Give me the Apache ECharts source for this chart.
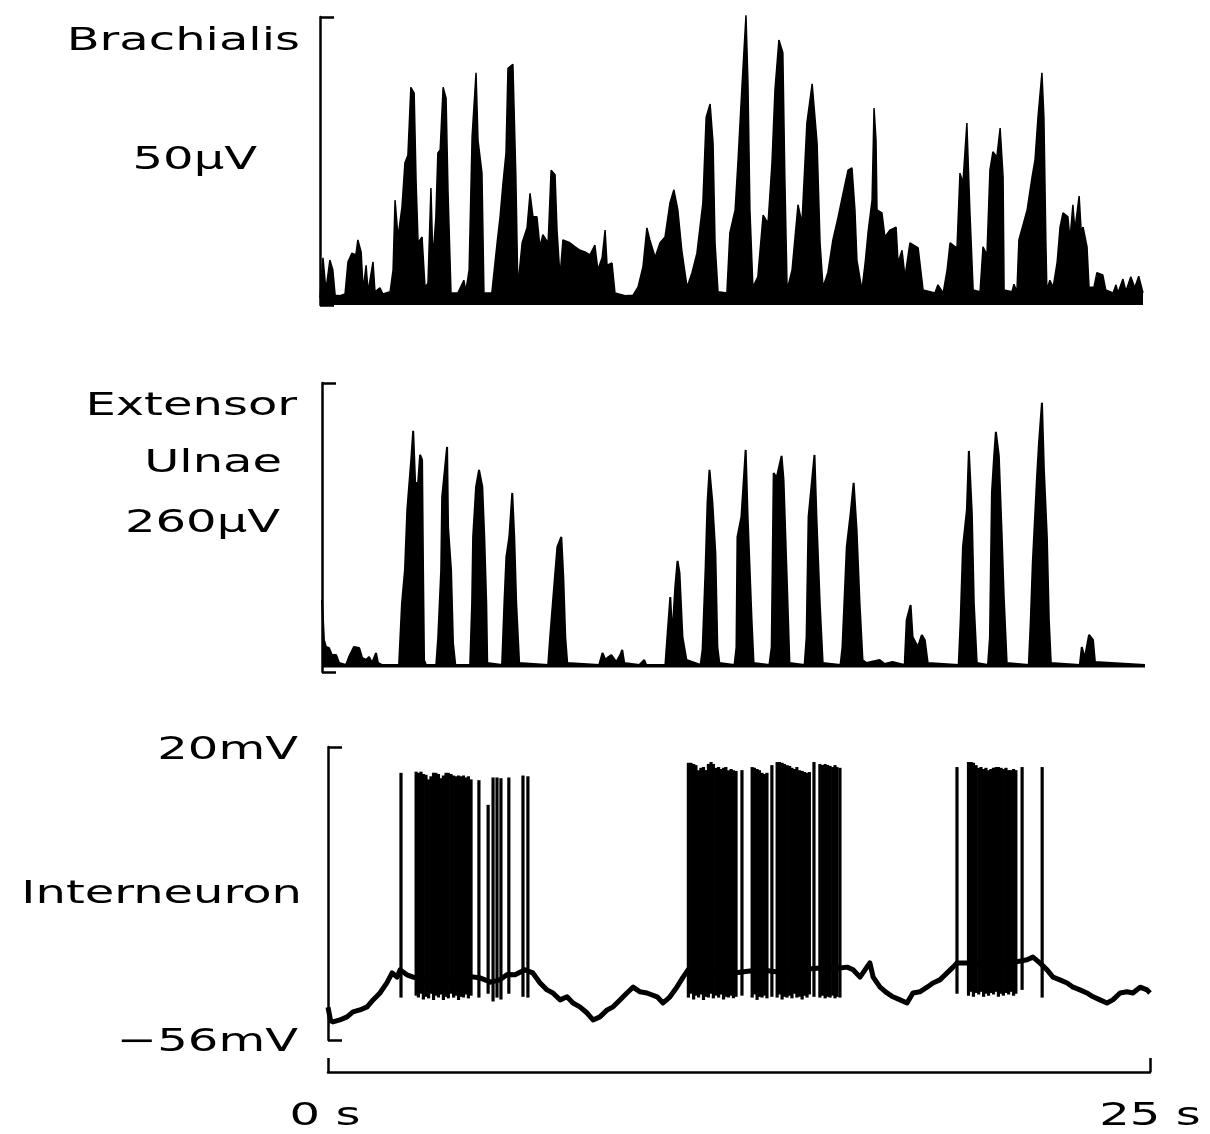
<!DOCTYPE html>
<html>
<head>
<meta charset="utf-8">
<script src="https://cdn.jsdelivr.net/npm/echarts@6/dist/echarts.min.js"></script>
<style>
  html, body { margin: 0; padding: 0; background: #fff; }
  #chart { width: 1210px; height: 1134px; }
</style>
</head>
<body>
<div id="chart"></div>
<script>
// ---------- DATA ----------
// Brachialis rectified EMG envelope: [time (s), amplitude (µV)]
const brachialis = [[0.00,1.2],[0.09,8.2],[0.18,2.6],[0.30,7.8],[0.39,6.1],[0.46,1.7],[0.61,1.6],[0.76,1.9],[0.85,7.5],[0.97,9.0],[1.09,8.7],[1.15,11.3],[1.25,9.2],[1.31,2.6],[1.40,6.9],[1.46,2.3],[1.61,7.5],[1.67,2.3],[1.82,3.0],[1.91,1.9],[2.13,2.3],[2.22,6.1],[2.28,18.2],[2.37,11.8],[2.49,17.0],[2.58,24.7],[2.67,26.0],[2.76,37.8],[2.86,36.8],[2.92,21.2],[2.98,10.8],[3.10,11.8],[3.19,3.1],[3.28,3.8],[3.37,20.3],[3.43,7.8],[3.52,15.3],[3.58,26.4],[3.65,26.9],[3.74,37.8],[3.83,35.9],[3.89,19.4],[3.98,2.1],[4.19,2.1],[4.37,4.3],[4.43,2.4],[4.53,6.1],[4.62,29.2],[4.74,40.3],[4.80,28.6],[4.92,22.9],[4.98,2.1],[5.22,2.1],[5.38,10.8],[5.47,15.3],[5.56,21.2],[5.65,26.4],[5.71,41.1],[5.86,41.8],[5.95,22.2],[6.01,3.1],[6.14,10.8],[6.29,13.4],[6.38,19.4],[6.47,15.3],[6.59,15.3],[6.68,10.1],[6.77,12.2],[6.93,10.8],[7.02,23.4],[7.14,22.6],[7.20,13.0],[7.29,4.9],[7.38,11.3],[7.59,10.8],[7.75,10.1],[7.90,9.5],[8.05,9.2],[8.20,8.7],[8.35,10.4],[8.44,6.1],[8.57,8.2],[8.66,13.0],[8.72,6.9],[8.87,7.3],[8.96,2.1],[9.27,1.6],[9.51,1.7],[9.66,3.1],[9.81,6.6],[9.93,13.4],[10.02,11.3],[10.18,8.3],[10.33,10.8],[10.48,11.8],[10.63,17.7],[10.75,20.0],[10.87,16.5],[10.99,9.5],[11.15,3.1],[11.30,5.6],[11.45,9.0],[11.63,17.7],[11.73,32.6],[11.85,34.9],[11.94,28.1],[12.00,10.8],[12.09,2.3],[12.36,2.1],[12.45,12.5],[12.61,16.5],[12.70,25.2],[12.82,38.2],[12.94,50.3],[13.00,38.5],[13.06,16.5],[13.15,3.1],[13.30,4.9],[13.46,15.6],[13.61,14.2],[13.73,24.7],[13.82,37.3],[13.94,46.0],[14.06,43.8],[14.12,22.2],[14.19,2.6],[14.34,6.1],[14.52,17.4],[14.64,14.2],[14.79,31.6],[14.95,38.4],[15.10,28.1],[15.19,10.8],[15.28,3.1],[15.43,5.7],[15.58,11.3],[15.74,15.3],[15.89,19.4],[16.04,23.4],[16.16,23.8],[16.25,16.5],[16.31,7.8],[16.46,2.6],[16.56,7.3],[16.65,12.7],[16.71,13.0],[16.77,18.2],[16.83,34.2],[16.89,28.6],[16.92,16.5],[17.07,16.0],[17.16,11.8],[17.31,13.0],[17.50,13.5],[17.56,7.3],[17.68,9.5],[17.77,4.9],[17.92,10.8],[18.17,9.9],[18.32,2.6],[18.68,2.1],[18.77,3.5],[18.93,2.1],[19.05,6.1],[19.14,10.8],[19.35,9.9],[19.44,22.9],[19.53,21.2],[19.65,31.6],[19.74,16.5],[19.84,2.6],[20.05,2.3],[20.14,10.1],[20.26,8.7],[20.35,23.4],[20.44,26.6],[20.56,25.7],[20.66,30.7],[20.75,22.2],[20.78,2.6],[21.02,2.3],[21.08,3.6],[21.17,2.3],[21.23,11.3],[21.48,16.5],[21.63,22.2],[21.72,25.2],[21.81,32.6],[21.93,40.3],[21.99,32.6],[22.05,10.8],[22.08,2.6],[22.17,4.3],[22.27,3.1],[22.39,7.3],[22.48,13.5],[22.57,16.0],[22.72,15.3],[22.78,11.3],[22.87,17.4],[22.93,13.0],[23.06,18.9],[23.12,13.0],[23.18,13.5],[23.30,10.1],[23.36,3.1],[23.51,3.1],[23.60,5.6],[23.78,5.2],[23.87,2.6],[24.09,2.1],[24.18,3.5],[24.24,2.1],[24.39,4.5],[24.48,2.4],[24.63,4.9],[24.75,3.0],[24.87,5.0],[25.00,2.1]];

// Extensor Ulnae rectified EMG envelope: [time (s), amplitude (µV)]
const extensorUlnae = [[0.00,64.8],[0.06,28.8],[0.12,22.5],[0.21,21.6],[0.30,15.3],[0.43,15.3],[0.52,8.1],[0.73,6.3],[0.82,13.5],[0.97,22.5],[1.13,21.6],[1.22,12.6],[1.34,10.8],[1.43,13.5],[1.52,8.1],[1.64,17.1],[1.70,8.1],[1.82,6.3],[2.34,6.3],[2.43,62.1],[2.52,91.8],[2.59,145.8],[2.71,190.8],[2.77,216.9],[2.83,170.1],[2.92,170.1],[2.98,195.3],[3.04,190.8],[3.07,91.8],[3.10,10.8],[3.16,6.3],[3.47,6.3],[3.53,31.5],[3.62,91.8],[3.65,157.5],[3.74,184.5],[3.80,202.5],[3.83,130.5],[3.92,91.8],[3.98,26.1],[4.05,6.3],[4.50,6.3],[4.56,62.1],[4.59,121.5],[4.68,166.5],[4.77,181.8],[4.87,166.5],[4.93,121.5],[4.99,62.1],[5.02,8.1],[5.47,6.3],[5.54,62.1],[5.60,103.5],[5.69,121.5],[5.78,161.1],[5.84,121.5],[5.90,62.1],[5.99,8.1],[6.87,6.3],[6.93,31.5],[7.06,80.1],[7.15,112.5],[7.27,121.5],[7.33,85.5],[7.39,31.5],[7.45,8.1],[8.42,6.3],[8.52,17.1],[8.61,10.8],[8.70,13.5],[8.79,15.3],[8.94,9.0],[9.06,15.3],[9.12,19.8],[9.18,8.1],[9.64,6.3],[9.79,10.8],[9.85,6.3],[10.43,6.3],[10.49,31.5],[10.58,67.5],[10.64,31.5],[10.73,76.5],[10.80,99.9],[10.86,89.1],[10.95,31.5],[11.07,10.8],[11.50,6.3],[11.56,19.8],[11.65,91.8],[11.71,152.1],[11.77,181.8],[11.86,152.1],[11.95,107.1],[12.01,22.5],[12.07,8.1],[12.53,6.3],[12.59,22.5],[12.62,121.5],[12.74,139.5],[12.87,199.8],[12.93,139.5],[13.05,46.8],[13.11,8.1],[13.59,6.3],[13.66,22.5],[13.72,179.1],[13.81,174.6],[13.96,194.4],[14.02,172.8],[14.11,91.8],[14.20,8.1],[14.66,6.3],[14.72,31.5],[14.78,139.5],[14.96,195.3],[15.02,139.5],[15.12,62.1],[15.21,8.1],[15.75,6.3],[15.81,22.5],[15.94,112.5],[16.06,143.1],[16.15,170.1],[16.24,127.8],[16.33,62.1],[16.42,10.8],[16.54,8.1],[16.94,10.8],[17.09,7.2],[17.33,9.0],[17.70,6.3],[17.76,46.8],[17.88,60.3],[17.94,31.5],[18.10,22.5],[18.22,33.3],[18.31,28.8],[18.40,8.1],[19.34,6.3],[19.40,46.8],[19.47,112.5],[19.59,145.8],[19.65,198.9],[19.74,143.1],[19.80,62.1],[19.89,8.1],[20.23,6.3],[20.29,31.5],[20.35,161.1],[20.41,190.8],[20.47,216.0],[20.56,194.4],[20.65,121.5],[20.71,67.5],[20.80,8.1],[21.47,6.3],[21.53,46.8],[21.59,98.1],[21.72,175.5],[21.78,206.1],[21.87,242.1],[21.93,181.8],[22.02,121.5],[22.08,46.8],[22.14,8.1],[23.02,6.3],[23.08,22.5],[23.17,12.6],[23.30,33.3],[23.42,28.8],[23.48,9.0],[25.00,6.3]];

// Interneuron membrane potential (slow trace): [time (s), mV]
const membranePotential = [[0.00,-47.5],[0.08,-51.0],[0.15,-51.3],[0.36,-50.8],[0.58,-50.0],[0.76,-48.7],[0.97,-48.2],[1.19,-47.4],[1.37,-45.6],[1.58,-43.8],[1.79,-41.2],[1.95,-38.6],[2.10,-39.7],[2.19,-37.8],[2.40,-39.1],[2.59,-39.7],[2.80,-39.9],[3.10,-41.0],[3.41,-41.7],[3.70,-40.8],[4.01,-40.4],[4.30,-39.5],[4.62,-39.9],[4.95,-41.0],[5.23,-40.4],[5.45,-39.0],[5.69,-39.1],[5.99,-37.8],[6.23,-38.6],[6.45,-41.2],[6.66,-43.0],[6.84,-43.8],[7.06,-45.6],[7.27,-44.8],[7.45,-46.4],[7.66,-47.4],[7.88,-49.0],[8.06,-50.8],[8.27,-50.0],[8.49,-48.2],[8.67,-47.4],[8.88,-45.6],[9.09,-43.8],[9.28,-42.3],[9.49,-43.5],[9.70,-43.8],[10.01,-44.8],[10.19,-46.4],[10.40,-44.8],[10.61,-42.3],[10.80,-39.7],[10.95,-37.8],[11.31,-38.4],[11.92,-39.1],[12.53,-38.4],[13.14,-37.8],[13.75,-38.4],[14.36,-37.8],[14.96,-37.3],[15.57,-37.3],[15.79,-37.1],[15.97,-37.8],[16.18,-39.7],[16.27,-38.6],[16.39,-37.1],[16.48,-36.0],[16.58,-39.7],[16.79,-42.3],[17.00,-43.8],[17.18,-44.8],[17.40,-45.6],[17.61,-46.4],[17.79,-43.8],[18.00,-43.5],[18.22,-42.3],[18.40,-41.2],[18.61,-40.4],[18.83,-38.6],[19.01,-37.1],[19.13,-36.0],[19.43,-36.0],[19.83,-36.5],[20.44,-36.0],[20.89,-35.8],[21.26,-35.2],[21.44,-34.5],[21.65,-36.0],[21.87,-37.8],[22.05,-39.7],[22.26,-40.4],[22.48,-41.2],[22.66,-42.3],[22.87,-43.0],[23.08,-43.8],[23.27,-44.8],[23.48,-45.6],[23.69,-46.4],[23.87,-45.6],[24.09,-43.8],[24.30,-43.5],[24.48,-43.8],[24.70,-42.3],[24.91,-43.0],[25.00,-43.8]];

// Interneuron action potentials: [time (s), trough (mV), peak (mV)]
const spikes = [
  [2.22,-45.0,13.3],
  [2.68,-44.5,13.6],[2.75,-45.0,13.3],[2.83,-44.0,13.6],[2.90,-45.5,13.0],[2.98,-44.8,12.8],[3.06,-45.2,11.6],[3.13,-44.0,12.4],[3.21,-45.6,13.3],[3.28,-44.5,13.3],[3.36,-45.0,13.0],[3.44,-44.2,11.9],[3.51,-45.6,12.6],[3.59,-44.8,13.3],[3.66,-45.2,13.3],[3.74,-44.0,13.0],[3.82,-45.0,12.6],[3.89,-44.5,12.4],[3.97,-45.6,12.6],[4.05,-44.8,12.4],[4.12,-45.0,12.6],[4.20,-44.2,12.1],[4.27,-45.2,12.4],[4.35,-44.5,11.6],
  [4.59,-45.0,11.4],[4.87,-44.0,5.0],[5.02,-46.0,12.1],[5.14,-45.0,12.1],[5.26,-45.5,11.9],[5.50,-44.0,12.1],[5.93,-44.8,12.6],[6.08,-45.0,12.4],
  [10.96,-45.0,15.9],[11.04,-44.0,15.9],[11.12,-45.5,15.6],[11.19,-44.5,15.3],[11.27,-45.0,14.0],[11.34,-44.2,14.6],[11.42,-45.6,14.8],[11.50,-44.8,14.0],[11.57,-45.0,15.6],[11.65,-44.0,16.1],[11.72,-45.2,15.6],[11.80,-44.5,14.6],[11.88,-45.0,14.8],[11.95,-44.2,14.3],[12.03,-45.5,14.6],[12.10,-44.8,14.8],[12.18,-45.0,14.0],[12.26,-44.5,14.3],[12.33,-45.2,14.0],[12.41,-44.8,13.8],
  [12.59,-44.5,14.0],
  [12.90,-45.0,14.8],[12.97,-44.2,14.6],[13.05,-45.6,14.3],[13.12,-44.8,14.0],[13.20,-45.0,13.3],[13.28,-44.5,13.0],[13.35,-45.2,13.3],
  [13.50,-44.8,15.3],
  [13.66,-45.0,16.1],[13.73,-44.2,16.1],[13.81,-45.5,15.9],[13.88,-44.8,15.6],[13.96,-45.0,15.3],[14.04,-44.5,15.1],[14.11,-45.2,14.6],[14.19,-44.0,14.3],[14.26,-45.0,14.8],[14.34,-44.8,14.0],[14.42,-45.5,13.8],[14.49,-44.5,13.5],[14.57,-45.0,13.3],[14.64,-44.2,13.5],
  [14.78,-44.8,16.1],
  [14.96,-45.0,15.6],[15.04,-44.5,15.3],[15.12,-45.2,15.6],[15.19,-44.8,15.3],[15.27,-45.0,15.1],[15.35,-44.5,14.8],[15.42,-45.2,15.3],[15.48,-44.8,14.8],
  [15.57,-45.0,14.6],
  [19.13,-44.0,14.8],
  [19.48,-44.5,16.1],[19.56,-43.5,16.1],[19.63,-44.8,15.9],[19.71,-43.8,15.3],[19.79,-44.2,14.6],[19.86,-43.5,14.8],[19.94,-44.8,14.3],[20.01,-44.0,14.6],[20.09,-44.5,14.0],[20.16,-43.8,14.3],[20.24,-44.2,14.6],[20.32,-43.5,14.8],[20.39,-44.8,14.8],[20.47,-44.0,14.6],[20.54,-44.5,14.3],[20.62,-43.8,14.6],[20.70,-44.2,14.0],[20.77,-43.5,14.0],[20.85,-44.5,14.3],[20.92,-44.0,14.0],
  [21.11,-43.0,14.8],[21.72,-45.0,14.8]
];

// Text
const traceNames = ['Brachialis', 'Extensor', 'Ulnae', 'Interneuron'];
const scaleLabels = ['50μV', '260μV', '20mV', '−56mV'];
const timeLabels = ['0 s', '25 s'];
const timeRange = [0, 25];
const brachialisScale = [0, 50];
const extensorScale = [0, 260];
const vmRange = [-56, 20];

// ---------- CHART ----------
const FONT = '"DejaVu Sans", sans-serif';
const FS = 32, SX = 1.5;
function label(text, x, y, align) {
  return {
    type: 'text', x: x, y: y, scaleX: SX, scaleY: 1,
    style: {
      text: text, fill: '#000', fontSize: FS, fontFamily: FONT,
      align: align, textAlign: align, verticalAlign: 'middle', textVerticalAlign: 'middle'
    }
  };
}

const axisLineStyle = { color: '#000', width: 2.5 };
function bracketAxis(gi, range) {
  return {
    gridIndex: gi, type: 'value', min: range[0], max: range[1], interval: range[1] - range[0],
    axisLine: { show: true, onZero: false, lineStyle: axisLineStyle },
    axisTick: { show: true, inside: true, length: 14, lineStyle: axisLineStyle },
    axisLabel: { show: false }, splitLine: { show: false }
  };
}

const SPIKE_W = 3.2;
const chart = echarts.init(document.getElementById('chart'), null, { renderer: 'canvas' });
const option = {
  animation: false,
  backgroundColor: '#fff',
  grid: [
    { left: 320, top: 17, width: 823, height: 288 },
    { left: 322, top: 383, width: 823, height: 289 },
    { left: 328, top: 747, width: 822, height: 293 }
  ],
  xAxis: [
    { gridIndex: 0, type: 'value', min: timeRange[0], max: timeRange[1], show: false },
    { gridIndex: 1, type: 'value', min: timeRange[0], max: timeRange[1], show: false },
    {
      gridIndex: 2, type: 'value', min: timeRange[0], max: timeRange[1], interval: 25,
      position: 'bottom', offset: 32,
      axisLine: { show: true, onZero: false, lineStyle: axisLineStyle },
      axisTick: { show: true, inside: true, length: 14, lineStyle: axisLineStyle },
      axisLabel: { show: false }, splitLine: { show: false }
    }
  ],
  yAxis: [
    bracketAxis(0, brachialisScale),
    bracketAxis(1, extensorScale),
    bracketAxis(2, vmRange)
  ],
  series: [
    {
      type: 'line', xAxisIndex: 0, yAxisIndex: 0, data: brachialis,
      symbol: 'none', clip: false,
      lineStyle: { color: '#000', width: 1.5 },
      areaStyle: { color: '#000', opacity: 1, origin: 0 }
    },
    {
      type: 'line', xAxisIndex: 1, yAxisIndex: 1, data: extensorUlnae,
      symbol: 'none', clip: false,
      lineStyle: { color: '#000', width: 2 },
      areaStyle: { color: '#000', opacity: 1, origin: 4 }
    },
    {
      type: 'line', xAxisIndex: 2, yAxisIndex: 2, data: membranePotential,
      symbol: 'none', clip: false,
      lineStyle: { color: '#000', width: 5, join: 'round' }
    },
    {
      type: 'custom', xAxisIndex: 2, yAxisIndex: 2, data: spikes, clip: false,
      encode: { x: 0, y: [1, 2] },
      renderItem: function (params, api) {
        const t = api.value(0);
        const pLow = api.coord([t, api.value(1)]);
        const pHigh = api.coord([t, api.value(2)]);
        return {
          type: 'rect',
          shape: { x: pLow[0] - SPIKE_W / 2, y: pHigh[1], width: SPIKE_W, height: pLow[1] - pHigh[1] },
          style: { fill: '#000' }
        };
      }
    }
  ],
  graphic: [
    label(traceNames[0], 300, 42, 'right'),
    label(scaleLabels[0], 257, 161, 'right'),
    label(traceNames[1], 297, 407, 'right'),
    label(traceNames[2], 282, 464, 'right'),
    label(scaleLabels[1], 280, 524, 'right'),
    label(scaleLabels[2], 298, 751, 'right'),
    label(traceNames[3], 302, 895, 'right'),
    label(scaleLabels[3], 298, 1043, 'right'),
    label(timeLabels[0], 325, 1117, 'center'),
    label(timeLabels[1], 1150, 1117, 'center')
  ]
};
chart.setOption(option);
</script>
</body>
</html>
